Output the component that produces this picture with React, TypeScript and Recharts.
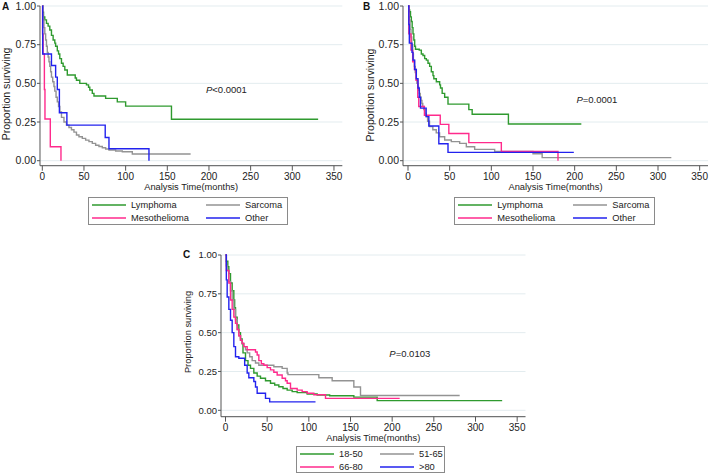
import React from "react";
import { LineChart, Line, XAxis, YAxis, CartesianGrid, Legend } from "recharts";

type Pt = [number, number];

const xTicks = [0, 50, 100, 150, 200, 250, 300, 350];
const yTicks = [0, 0.25, 0.5, 0.75, 1];

const typeNames = ["Lymphoma", "Sarcoma", "Mesothelioma", "Other"];
const ageNames = ["18-50", "51-65", "66-80", ">80"];

// panel A (time in months, proportion surviving)
const aLymphoma: Pt[] = [[0, 1], [0.5, 0.96], [1.5, 0.93], [3, 0.91], [5, 0.888], [7, 0.87], [9, 0.845], [11, 0.81], [13, 0.78], [15, 0.76], [16, 0.74], [18, 0.71], [19.5, 0.69], [21, 0.66], [23, 0.63], [25, 0.61], [27, 0.586], [30, 0.554], [39.5, 0.535], [41, 0.52], [45, 0.5], [53, 0.49], [55.5, 0.475], [57, 0.457], [60, 0.435], [62, 0.418], [76, 0.403], [90, 0.38], [100, 0.353], [155, 0.268], [331, 0.268]];
const aSarcoma: Pt[] = [[0, 1], [0.5, 0.95], [1, 0.91], [2, 0.86], [3, 0.82], [4, 0.78], [5, 0.74], [6, 0.7], [7, 0.67], [8, 0.64], [9, 0.61], [10, 0.575], [11, 0.54], [12.5, 0.51], [14, 0.48], [15, 0.45], [16.5, 0.41], [18, 0.38], [19.5, 0.35], [21, 0.315], [23, 0.28], [26, 0.25], [29, 0.23], [32, 0.215], [35, 0.2], [38, 0.185], [41, 0.166], [44, 0.155], [48, 0.144], [52, 0.133], [56, 0.123], [60, 0.112], [64, 0.1], [68, 0.092], [72, 0.084], [76, 0.076], [80, 0.069], [88, 0.063], [96, 0.058], [108, 0.043], [178, 0.043]];
const aMeso: Pt[] = [[0, 1], [0.3, 0.82], [1, 0.69], [2.5, 0.46], [3.2, 0.27], [9.6, 0.09], [22.4, 0]];
const aOther: Pt[] = [[0, 1], [0.5, 0.69], [11, 0.615], [16, 0.54], [18, 0.46], [20.5, 0.31], [29.5, 0.23], [75.5, 0.15], [80, 0.077], [128, 0]];

// panel B
const bLymphoma: Pt[] = [[0, 1], [1, 0.975], [2, 0.963], [3, 0.93], [4, 0.9], [5, 0.86], [6, 0.82], [7, 0.78], [8, 0.74], [9, 0.72], [13.5, 0.715], [16, 0.69], [18, 0.68], [20, 0.66], [22, 0.65], [24, 0.63], [26, 0.61], [28, 0.575], [30, 0.55], [31, 0.53], [34, 0.51], [38, 0.49], [39, 0.47], [41, 0.435], [44, 0.41], [48, 0.366], [73, 0.33], [77, 0.3], [120.5, 0.237], [208, 0.237]];
const bSarcoma: Pt[] = [[0, 1], [1, 0.93], [1.6, 0.91], [2.5, 0.85], [3.6, 0.8], [4.5, 0.75], [5.6, 0.69], [6.5, 0.65], [7.7, 0.61], [8.7, 0.57], [9.7, 0.53], [10.7, 0.5], [11.7, 0.48], [12.7, 0.455], [13.7, 0.435], [14.7, 0.41], [15.7, 0.39], [16.7, 0.37], [17.7, 0.35], [19, 0.33], [20.5, 0.305], [21.8, 0.285], [23.5, 0.255], [25.8, 0.22], [29.8, 0.2], [33.9, 0.18], [37.9, 0.155], [44, 0.134], [52, 0.123], [62, 0.112], [70, 0.09], [80, 0.073], [104, 0.06], [150, 0.045], [161, 0.02], [316, 0.02]];
const bMeso: Pt[] = [[0, 1], [1, 0.82], [3.6, 0.715], [5.6, 0.64], [7.7, 0.59], [9.7, 0.52], [11.7, 0.41], [12.9, 0.35], [19.7, 0.294], [38.7, 0.235], [49, 0.176], [73, 0.117], [112, 0.06], [180, 0]];
const bOther: Pt[] = [[0, 1], [1, 0.88], [1.6, 0.76], [4.8, 0.7], [6, 0.65], [8, 0.59], [10, 0.53], [12, 0.47], [13.5, 0.41], [15, 0.34], [21.8, 0.285], [25, 0.224], [37, 0.11], [48, 0.054], [199, 0.054]];

// panel C (age groups)
const c1850: Pt[] = [[0, 1], [1, 0.96], [2.8, 0.925], [4, 0.88], [6, 0.82], [8, 0.77], [10, 0.71], [11, 0.66], [12, 0.6], [14, 0.55], [16, 0.5], [18, 0.46], [20, 0.43], [21, 0.37], [24, 0.32], [27, 0.29], [30, 0.27], [34, 0.24], [38, 0.22], [42, 0.206], [48, 0.19], [54, 0.174], [59, 0.163], [64, 0.152], [69, 0.14], [74, 0.13], [80, 0.12], [86, 0.114], [98, 0.105], [110, 0.099], [125, 0.094], [154, 0.085], [182, 0.062], [332, 0.062]];
const c5165: Pt[] = [[0, 1], [1, 0.93], [2, 0.9], [4, 0.83], [6, 0.77], [8, 0.71], [10, 0.65], [12, 0.585], [14, 0.52], [16, 0.48], [18, 0.45], [20, 0.43], [22, 0.41], [24, 0.39], [26, 0.37], [29, 0.345], [32, 0.32], [36, 0.305], [40, 0.29], [58, 0.28], [68, 0.27], [74, 0.24], [75, 0.23], [112, 0.21], [128, 0.19], [154, 0.15], [162, 0.095], [281, 0.095]];
const c6680: Pt[] = [[0, 1], [1, 0.9], [4, 0.82], [6, 0.71], [8, 0.65], [10, 0.6], [12, 0.56], [14, 0.52], [16, 0.48], [18, 0.45], [20, 0.43], [22, 0.41], [26, 0.39], [34, 0.39], [36, 0.375], [38, 0.356], [40, 0.32], [43, 0.3], [46, 0.29], [50, 0.275], [54, 0.26], [58, 0.245], [62, 0.227], [68, 0.206], [72, 0.19], [74, 0.174], [78, 0.14], [86, 0.13], [92, 0.12], [98, 0.11], [106, 0.1], [120, 0.077], [209, 0.077]];
const cOver80: Pt[] = [[0, 1], [1, 0.84], [2, 0.73], [4, 0.65], [6, 0.58], [8, 0.5], [10, 0.41], [12, 0.345], [16, 0.335], [23, 0.29], [26, 0.24], [28, 0.21], [34, 0.185], [36, 0.15], [38, 0.11], [48, 0.077], [53, 0.054], [108, 0.054]];

const colors = ["#2f9a2f", "#939393", "#ff2a8c", "#2222ee"];
const font = "'Liberation Sans', Arial, sans-serif";

const toRows = (pts: Pt[]) => pts.map(([t, s]) => ({ t, s }));

type PanelProps = {
  left: number;
  top: number;
  axisY: number;
  padLeft: number;
  padBottom: number;
  names: string[];
  series: Pt[][];
  pLabel: string;
  pX: number;
  pY: number;
  legendX: number;
  legendW: number;
  legendH: number;
  legendCols: number[];
  tickFont: number;
  yLabelY: number;
  yLabelFont: number;
};

function Panel(p: PanelProps) {
  const plotW = p.padLeft + 300;
  const width = 40 + plotW + 4;
  const height = 228;
  const xAxisH = 26;
  const mBottom = height - p.axisY - xAxisH;

  const legendContent = (props: any) => {
    const items = [...(props.payload || [])].sort(
      (a: any, b: any) => p.names.indexOf(a.value) - p.names.indexOf(b.value)
    );
    return (
      <div
        style={{
          width: p.legendW,
          height: p.legendH,
          boxSizing: "border-box",
          border: "1px solid #8a8a8a",
          background: "#fff",
          display: "grid",
          gridTemplateColumns: p.legendCols.map((c) => c + "px").join(" "),
          padding: "0.5px 0 0 3px",
          fontFamily: font,
          fontSize: 9.3,
          color: "#222",
        }}
      >
        {items.map((it: any) => (
          <div key={it.value} style={{ display: "flex", alignItems: "center", height: 13 }}>
            <svg width={34} height={4}>
              <line x1={0} y1={2} x2={34} y2={2} stroke={it.color} strokeWidth={1.5} />
            </svg>
            <span style={{ marginLeft: 5 }}>{it.value}</span>
          </div>
        ))}
      </div>
    );
  };

  return (
    <div style={{ position: "absolute", left: p.left, top: p.top }}>
      <LineChart
        width={width}
        height={height}
        margin={{ top: 6, right: 4, bottom: mBottom, left: 0 }}
        style={{ fontFamily: font }}
      >
        <CartesianGrid vertical={false} stroke="#e3ecef" strokeWidth={1} />
        <XAxis
          type="number"
          dataKey="t"
          domain={[0, 360]}
          ticks={xTicks}
          interval={0}
          padding={{ left: p.padLeft, right: 0 }}
          height={xAxisH}
          tickSize={5}
          tickMargin={2}
          stroke="#555"
          tick={{ fontSize: 10, fill: "#222" }}
        />
        <YAxis
          type="number"
          domain={[0, 1]}
          ticks={yTicks}
          interval={0}
          width={40}
          padding={{ top: 0, bottom: p.padBottom }}
          tickSize={3}
          tickMargin={1}
          stroke="#555"
          tickFormatter={(v: number) => v.toFixed(2)}
          tick={{ fontSize: p.tickFont, fill: "#222" }}
        />
        {p.series.map((s, i) => (
          <Line
            key={p.names[i]}
            name={p.names[i]}
            data={toRows(s)}
            dataKey="s"
            type="stepAfter"
            stroke={colors[i]}
            strokeWidth={1.4}
            dot={false}
            activeDot={false}
            isAnimationActive={false}
          />
        ))}
        <Legend
          layout="horizontal"
          verticalAlign="middle"
          align="center"
          content={legendContent}
          wrapperStyle={{ left: p.legendX, top: 197, width: p.legendW, height: p.legendH }}
        />
        <text x={p.pX} y={p.pY} fontSize={9.5} fill="#222" fontFamily={font}>
          <tspan fontStyle="italic">P</tspan>
          {p.pLabel}
        </text>
        <text
          transform={`translate(7, ${p.yLabelY}) rotate(-90)`}
          textAnchor="middle"
          dominantBaseline="central"
          fontSize={p.yLabelFont}
          fill="#222"
          fontFamily={font}
        >
          Proportion surviving
        </text>
        <text
          x={40 + plotW / 2}
          y={p.axisY + 24}
          textAnchor="middle"
          fontSize={9.3}
          fill="#222"
          fontFamily={font}
        >
          Analysis Time(months)
        </text>
      </LineChart>
    </div>
  );
}

const letterStyle: React.CSSProperties = {
  position: "absolute",
  fontFamily: font,
  fontWeight: "bold",
  fontSize: 10,
  lineHeight: "10px",
  color: "#111",
};

export default function App() {
  return (
    <div
      style={{
        position: "absolute",
        left: 0,
        top: 0,
        width: 709,
        height: 476,
        overflow: "hidden",
        background: "#fff",
      }}
    >
      <Panel
        left={0}
        top={0}
        axisY={165.7}
        padLeft={2.3}
        padBottom={5}
        names={typeNames}
        series={[aLymphoma, aSarcoma, aMeso, aOther]}
        pLabel="<0.0001"
        pX={206}
        pY={93.3}
        legendX={88}
        legendW={200}
        legendH={28}
        legendCols={[114, 84]}
        tickFont={10.5}
        yLabelY={94}
        yLabelFont={10.5}
      />
      <Panel
        left={363.3}
        top={0}
        axisY={165.7}
        padLeft={5}
        padBottom={5}
        names={typeNames}
        series={[bLymphoma, bSarcoma, bMeso, bOther]}
        pLabel="=0.0001"
        pX={213.4}
        pY={102.5}
        legendX={91}
        legendW={201}
        legendH={28}
        legendCols={[115, 84]}
        tickFont={10.5}
        yLabelY={95}
        yLabelFont={10.5}
      />
      <Panel
        left={180.7}
        top={249}
        axisY={167.7}
        padLeft={4.5}
        padBottom={6.4}
        names={ageNames}
        series={[c1850, c5165, c6680, cOver80]}
        pLabel="=0.0103"
        pX={208.3}
        pY={107.5}
        legendX={115.3}
        legendW={149}
        legendH={27}
        legendCols={[80, 67]}
        tickFont={9.5}
        yLabelY={83}
        yLabelFont={9.3}
      />
      <div style={{ ...letterStyle, left: 2, top: 2 }}>A</div>
      <div style={{ ...letterStyle, left: 363, top: 2 }}>B</div>
      <div style={{ ...letterStyle, left: 183, top: 250 }}>C</div>
    </div>
  );
}
